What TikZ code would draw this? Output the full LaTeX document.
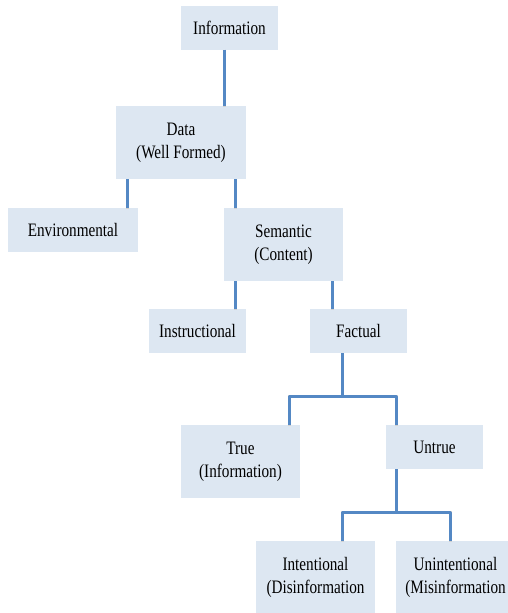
\documentclass[tikz,border=0pt]{standalone}
\usepackage{fontspec}
\setmainfont[FakeStretch=0.8]{Liberation Serif}
\usepackage{tikz}
\usetikzlibrary{positioning,calc}

\definecolor{cellfill}{RGB}{221,231,242}
\definecolor{linkblue}{RGB}{84,136,196}

\begin{document}
\begin{tikzpicture}[
    x=1pt, y=-1pt,
    cell/.style={rectangle, fill=cellfill, inner sep=0pt, minimum width=97pt, minimum height=44pt, align=center, font=\fontsize{19}{23}\selectfont},
    tallcell/.style={cell, minimum width=119pt, minimum height=73pt},
    link/.style={draw=linkblue, line width=3pt, line join=round,
        preaction={draw=black!18, line width=3pt, transform canvas={shift={(0.9pt,-0.9pt)}}}},
]
    \clip (0,0) rectangle (508,613);
    \useasboundingbox (0,0) rectangle (508,613);

    \node[cell] (info) at (229.5,27.5) {Information};
    \node[tallcell, minimum width=130pt] (data) at (181,142.5) {Data\\(Well Formed)};
    \node[cell, minimum width=130pt] (env) at (73,230) {Environmental};
    \node[tallcell] (sem) at (283.5,244.5) {Semantic\\(Content)};
    \node[cell] (instr) at (197.5,331) {Instructional};
    \node[cell] (fact) at (358.5,331) {Factual};
    \node[tallcell] (true) at (240.5,461.5) {True\\(Information)};
    \node[cell] (untrue) at (434.5,447) {Untrue};
    \node[tallcell] (intent) at (315.5,577.5) {Intentional\\(Disinformation};
    \node[tallcell] (unint) at (455.5,577.5) {Unintentional\\(Misinformation};

    % straight links
    \draw[link] ([xshift=-5.5pt]info.south) -- ([xshift=-5.5pt]info.south |- data.north);
    \draw[link] ([xshift=-54pt]data.south) -- ([xshift=-54pt]data.south |- env.north);
    \draw[link] ([xshift=54pt]data.south) -- ([xshift=54pt]data.south |- sem.north);
    \draw[link] ([xshift=-48.5pt]sem.south) -- ([xshift=-48.5pt]sem.south |- instr.north);
    \draw[link] ([xshift=48.5pt]sem.south) -- ([xshift=48.5pt]sem.south |- fact.north);

    % forks
    \coordinate (factfork) at (342,396);
    \coordinate (untruefork) at (396,512);
    \draw[link] ([xshift=-16.5pt]fact.south) -- (factfork);
    \draw[link] ([xshift=48.5pt]true.north) |- (factfork) -| ([xshift=-38.5pt]untrue.north);
    \draw[link] ([xshift=-38.5pt]untrue.south) -- (untruefork);
    \draw[link] ([xshift=26.5pt]intent.north) |- (untruefork) -| ([xshift=-5.5pt]unint.north);
\end{tikzpicture}
\end{document}
